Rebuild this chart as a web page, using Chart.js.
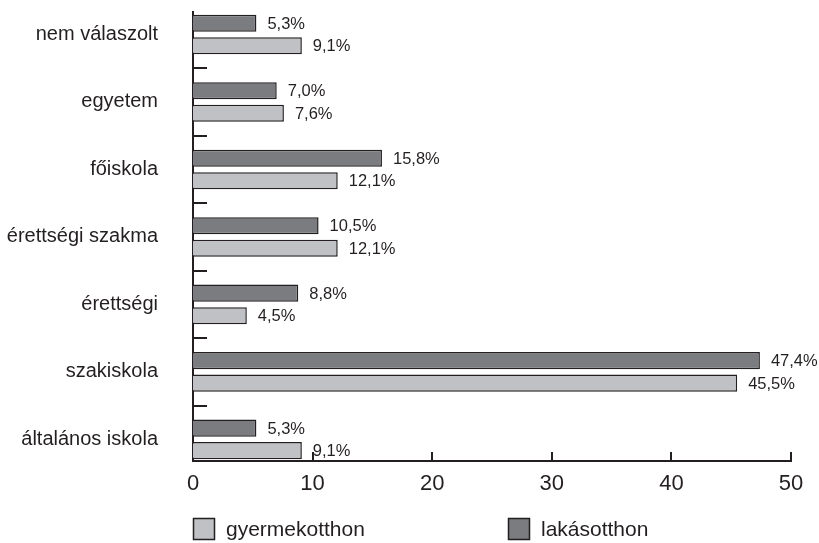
<!DOCTYPE html>
<html><head><meta charset="utf-8">
<script src="https://cdn.jsdelivr.net/npm/chart.js@4.4.1/dist/chart.umd.min.js"></script>
<style>html,body{margin:0;padding:0;background:#fff}canvas{display:block}</style>
</head><body>
<canvas id="c" width="819" height="543"></canvas>
<script>
const categories = ['nem válaszolt','egyetem','főiskola','érettségi szakma','érettségi','szakiskola','általános iskola'];
const lakasotthon = [5.3, 7.0, 15.8, 10.5, 8.8, 47.4, 5.3];
const gyermekotthon = [9.1, 7.6, 12.1, 12.1, 4.5, 45.5, 9.1];
const xTicks = [0, 10, 20, 30, 40, 50];
const seriesNames = ['lakásotthon', 'gyermekotthon'];
const seriesColors = ['#7b7c80', '#c0c1c4'];

const FONT = '"Liberation Sans", Arial, sans-serif';
const INK = '#231f20';

const toPoints = arr => arr.map((v, i) => ({x: v, y: i}));
const fmt = v => v.toFixed(1).replace('.', ',') + '%';

const decor = {
  id: 'decor',
  afterDatasetsDraw(chart) {
    const ctx = chart.ctx;
    ctx.save();
    ctx.fillStyle = INK;
    ctx.font = '16.5px ' + FONT;
    ctx.textAlign = 'left';
    ctx.textBaseline = 'middle';
    chart.data.datasets.forEach((ds, di) => {
      const meta = chart.getDatasetMeta(di);
      meta.data.forEach((el, i) => {
        ctx.fillText(fmt(ds.data[i].x), el.x + 11, el.y + 1);
      });
    });
    ctx.restore();
  },
  afterDraw(chart) {
    const ctx = chart.ctx;
    const xs = chart.scales.x, ys = chart.scales.y;
    const area = chart.chartArea;
    ctx.save();
    ctx.strokeStyle = INK;
    ctx.lineWidth = 2;
    ctx.beginPath();
    for (let i = 0; i < categories.length - 1; i++) {
      const y = Math.round(ys.getPixelForValue(i + 0.5));
      ctx.moveTo(area.left, y);
      ctx.lineTo(area.left + 14, y);
    }
    xTicks.slice(1).forEach(v => {
      const x = Math.round(xs.getPixelForValue(v));
      ctx.moveTo(x, area.bottom);
      ctx.lineTo(x, area.bottom - 9);
    });
    ctx.stroke();
    // legend (gyermekotthon first, then lakásotthon)
    const order = [1, 0];
    ctx.font = '21px ' + FONT;
    ctx.textBaseline = 'middle';
    ctx.textAlign = 'left';
    const ly = 518;
    order.forEach((di, k) => {
      const lx = area.left + k * 315;
      ctx.fillStyle = seriesColors[di];
      ctx.fillRect(lx, ly, 22, 22);
      ctx.lineWidth = 1.5;
      ctx.strokeStyle = INK;
      ctx.strokeRect(lx + 0.5, ly + 0.5, 21, 21);
      ctx.fillStyle = INK;
      ctx.fillText(seriesNames[di], lx + 33, ly + 12);
    });
    ctx.restore();
  }
};

new Chart(document.getElementById('c'), {
  type: 'bar',
  data: {
    datasets: [
      {label: seriesNames[0], data: toPoints(lakasotthon), backgroundColor: seriesColors[0], borderColor: INK, borderWidth: 1.5},
      {label: seriesNames[1], data: toPoints(gyermekotthon), backgroundColor: seriesColors[1], borderColor: INK, borderWidth: 1.5}
    ]
  },
  options: {
    indexAxis: 'y',
    responsive: false,
    animation: false,
    events: [],
    categoryPercentage: 0.667,
    barPercentage: 0.76,
    layout: {padding: {left: 0, top: 12, right: 28, bottom: 0}},
    plugins: {legend: {display: false}, tooltip: {enabled: false}},
    scales: {
      y: {
        type: 'linear',
        reverse: true,
        offset: false,
        min: -0.333,
        max: 6.32,
        afterBuildTicks: s => { s.ticks = categories.map((c, i) => ({value: i})); },
        afterFit: s => { s.width = 193; s.paddingTop = 0; s.paddingBottom = 0; },
        grid: {display: false, drawTicks: false},
        border: {display: true, color: INK, width: 2},
        ticks: {
          autoSkip: false,
          padding: 35,
          color: INK,
          font: {family: FONT, size: 20},
          callback: v => categories[v]
        }
      },
      x: {
        type: 'linear',
        min: 0,
        max: 50,
        afterBuildTicks: s => { s.ticks = xTicks.map(v => ({value: v})); },
        afterFit: s => { s.height = 82; s.paddingLeft = 0; s.paddingRight = 0; },
        grid: {display: false, drawTicks: false},
        border: {display: true, color: INK, width: 2},
        ticks: {
          padding: 10,
          color: INK,
          font: {family: FONT, size: 22},
          maxRotation: 0
        }
      }
    }
  },
  plugins: [decor]
});
</script>
</body></html>
